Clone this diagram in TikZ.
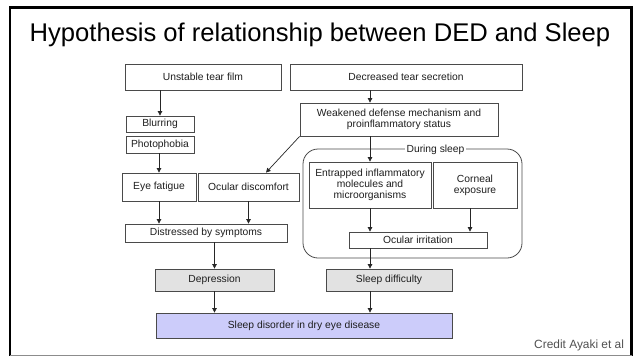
\documentclass[tikz,border=0pt]{standalone}
\usepackage{fontspec}
\setmainfont{Liberation Sans}
\usetikzlibrary{arrows.meta}
\definecolor{boxline}{HTML}{4A4A4A}
\definecolor{boxtext}{HTML}{1E1E1E}
\definecolor{greyfill}{HTML}{E2E2E2}
\definecolor{lavender}{HTML}{CCCCFA}
\definecolor{credit}{HTML}{505050}
\tikzset{
  box/.style={draw=boxline, line width=0.8pt, text=boxtext, inner sep=0pt,
    align=center, font=\fontsize{10.3}{11.3}\selectfont},
  greybox/.style={box, fill=greyfill},
  outbox/.style={box, fill=lavender},
  link/.style={draw=black!85, line width=0.7pt, -{Triangle[length=4.5pt,width=4.5pt]}},
}
\newcommand{\bx}[5]{%
  \node[#1, minimum width=#3pt, minimum height=#4pt] (#2) at #5}
\begin{document}
\begin{tikzpicture}[x=1pt,y=-1pt]
\useasboundingbox (0,0) rectangle (636,356);
% outer frame
\draw[line width=2.6pt, line cap=rect] (10,355) -- (10,7.5) -- (631.5,7.5) -- (631.5,355);
\draw[black!45, line width=0.8pt] (10,355) -- (631.5,355);

\node[font=\fontsize{25.6}{28}\selectfont] (title) at (320,35) {Hypothesis of relationship between DED and Sleep};

% sleep container
\draw[boxline, line width=0.8pt, rounded corners=15pt] (303,149) rectangle (522,258);
\node[fill=white, inner sep=2pt, text=boxtext, font=\fontsize{10.3}{11.3}\selectfont] (during) at (435.5,150) {During sleep};

\bx{box}{unstable}{156}{26}{(203,77)} {Unstable tear film};
\bx{box}{decreased}{232}{26}{(406,77)} {Decreased tear secretion};
\bx{box}{weakened}{198}{33}{(399,119.5)} {Weakened defense mechanism and\\proinflammatory status};
\bx{box}{blurring}{68}{16}{(160,124)} {Blurring};
\bx{box}{photophobia}{68}{17}{(160,144.5)} {Photophobia};
\bx{box}{fatigue}{74}{28}{(159,187)} {Eye fatigue};
\bx{box}{discomfort}{101}{28}{(248.5,187)} {Ocular discomfort};
\bx{box}{entrapped}{122}{46}{(370,185)} {Entrapped inflammatory\\molecules and\\microorganisms};
\bx{box}{corneal}{84}{46}{(475,185)} {Corneal\\exposure};
\bx{box}{irritation}{138}{16}{(418,240)} {Ocular irritation};
\bx{box}{distressed}{162}{18}{(206,233)} {Distressed by symptoms};
\bx{greybox}{depression}{119}{22}{(214.5,280)} {Depression};
\bx{greybox}{sleepdiff}{126}{22}{(389,280)} {Sleep difficulty};
\bx{outbox}{disorder}{296}{25}{(304,325.5)} {Sleep disorder in dry eye disease};

\node[anchor=east, text=credit, font=\fontsize{11.9}{13}\selectfont] (creditline) at (627.5,345) {Credit Ayaki et al};

% connectors
\coordinate (cornealout) at ([xshift=-5pt]corneal.south);
\draw[link] (unstable.south -| blurring.north) -- (blurring.north);
\draw[link] (photophobia.south -| fatigue.north) -- (fatigue.north);
\draw[link] (decreased.south -| entrapped.north) -- (weakened.north -| entrapped.north);
\draw[link] (weakened.south -| entrapped.north) -- (entrapped.north);
\draw[link] (weakened.south west) -- ([xshift=17.5pt]discomfort.north);
\draw[link] (fatigue.south) -- (distressed.north -| fatigue.south);
\draw[link] (discomfort.south) -- (distressed.north -| discomfort.south);
\draw[link] (distressed.south -| depression.north) -- (depression.north);
\draw[link] (depression.south) -- (disorder.north -| depression.south);
\draw[link] (entrapped.south) -- (irritation.north -| entrapped.south);
\draw[link] (cornealout) -- (irritation.north -| cornealout);
\draw[link] (irritation.south -| entrapped.south) -- (sleepdiff.north -| entrapped.south);
\draw[link] (sleepdiff.south -| entrapped.south) -- (disorder.north -| entrapped.south);
\end{tikzpicture}
\end{document}
